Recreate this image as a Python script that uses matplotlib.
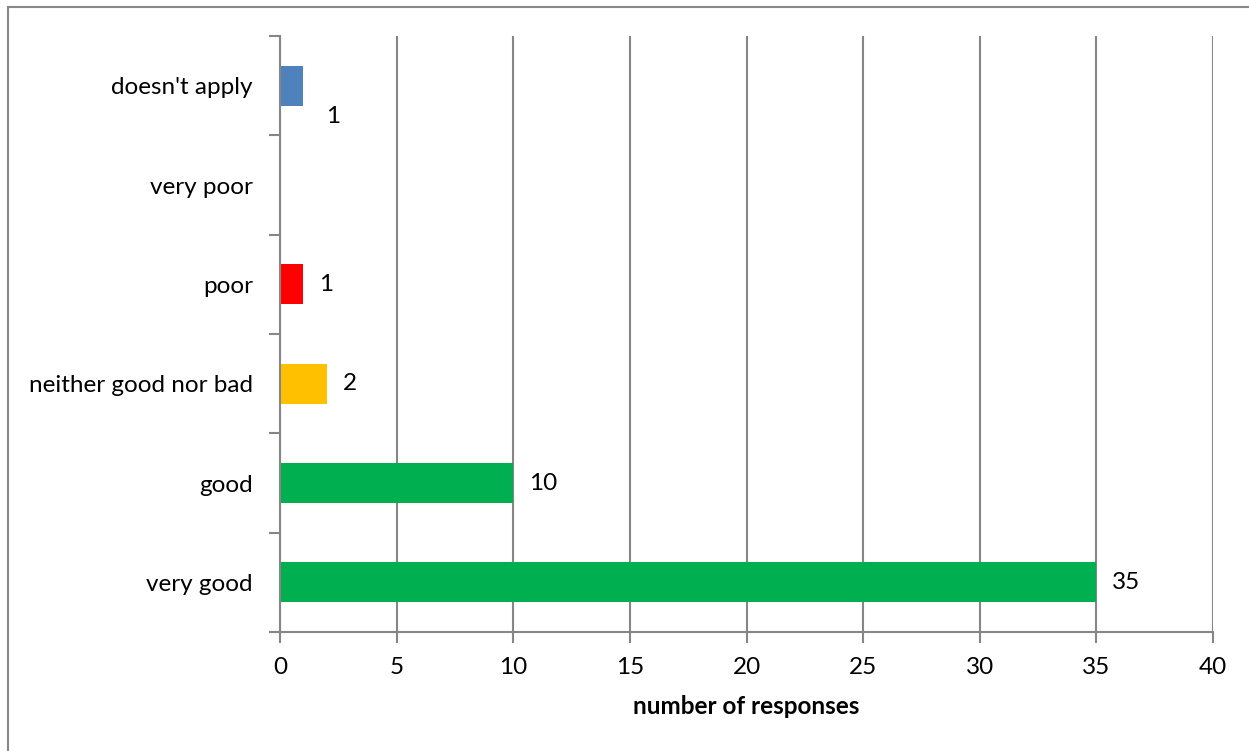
import matplotlib
matplotlib.use("Agg")
import matplotlib.pyplot as plt
from matplotlib.lines import Line2D

categories = ["very good", "good", "neither good nor bad", "poor", "very poor", "doesn't apply"]
responses = [35, 10, 2, 1, 0, 1]
bar_colors = ["#00B050", "#00B050", "#FFC000", "#FF0000", "#4F81BD", "#4F81BD"]
x_ticks = [0, 5, 10, 15, 20, 25, 30, 35, 40]
x_label = "number of responses"

plt.rcParams["font.family"] = ["Lato", "DejaVu Sans"]
FS = 17.5

fig = plt.figure(figsize=(12.49, 7.51), dpi=100)
ax = fig.add_axes([280 / 1249, 1 - 632 / 751, (1213 - 280) / 1249, (632 - 36) / 751])

ypos = list(range(len(categories)))
ax.barh(ypos, responses, height=0.4, color=bar_colors, zorder=3)

ax.set_xlim(0, 40)
ax.set_ylim(-0.5, len(categories) - 0.5)
ax.set_xticks(x_ticks)
ax.set_xticklabels([str(t) for t in x_ticks], fontsize=FS)
ax.tick_params(axis="x", length=8, width=1.5, color="#868686", pad=10)

# category boundaries carry the y ticks; labels sit at band centres
ax.set_yticks([i - 0.5 for i in range(len(categories) + 1)])
ax.set_yticklabels([])
ax.set_yticks(ypos, minor=True)
ax.set_yticklabels(categories, minor=True, fontsize=FS, va="center_baseline")
ax.tick_params(axis="y", which="major", length=8, width=1.5, color="#868686")
ax.tick_params(axis="y", which="minor", length=0, pad=19.5)

ax.grid(axis="x", color="#868686", linewidth=1.5, zorder=0)
for side in ["top", "right"]:
    ax.spines[side].set_visible(False)
for side in ["left", "bottom"]:
    ax.spines[side].set_color("#868686")
    ax.spines[side].set_linewidth(1.5)
ax.spines["left"].set_zorder(4)

ax.set_xlabel(x_label, fontsize=FS, fontweight="bold", labelpad=12)

# value labels
for i, v in enumerate(responses):
    if v == 0:
        continue
    if categories[i] == "doesn't apply":
        ax.annotate(str(v), (v, i), xytext=(30, -31), textcoords="offset pixels",
                    ha="center", va="center", fontsize=FS)
    else:
        ax.annotate(str(v), (v, i), xytext=(16, 0), textcoords="offset pixels",
                    ha="left", va="center", fontsize=FS)

# chart area frame
fig.add_artist(Line2D([8 / 1249, 1], [1 - 7 / 751, 1 - 7 / 751], color="#888888", linewidth=1.5,
                      transform=fig.transFigure))
fig.add_artist(Line2D([8 / 1249, 8 / 1249], [0, 1 - 7 / 751], color="#888888", linewidth=1.5,
                      transform=fig.transFigure))

fig.savefig("out.png", dpi=100)
